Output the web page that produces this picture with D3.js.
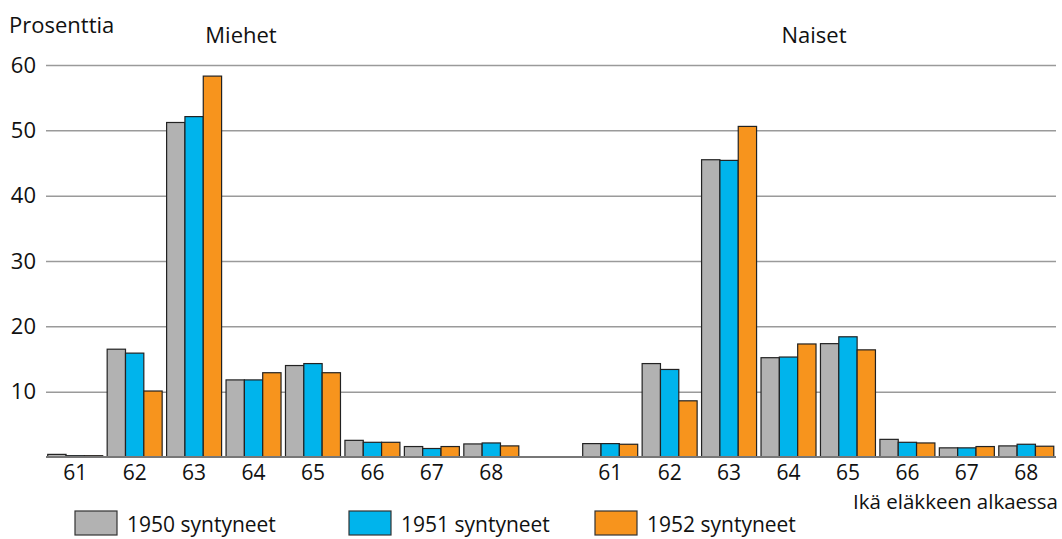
<!DOCTYPE html>
<html>
<head>
<meta charset="utf-8">
<script src="https://cdn.jsdelivr.net/npm/d3@7"></script>
<style>
  body { margin: 0; background: #fff; }
  svg { display: block; font-family: "Open Sans", sans-serif; }
</style>
</head>
<body>
<div id="chart"></div>
<script>
// Ages in each panel; "gap" is the empty slot between the panels
const ages = ['61', '62', '63', '64', '65', '66', '67', '68'];
const panels = ['Miehet', 'Naiset'];
const seriesNames = ['1950 syntyneet', '1951 syntyneet', '1952 syntyneet'];
const yTicks = [10, 20, 30, 40, 50, 60];

// Share (%) starting pension at each age
const miehet1950 = [0.4, 16.5, 51.2, 11.8, 14.0, 2.55, 1.6, 2.0];
const miehet1951 = [0.2, 15.9, 52.1, 11.8, 14.3, 2.25, 1.3, 2.15];
const miehet1952 = [0.2, 10.1, 58.3, 12.9, 12.9, 2.25, 1.6, 1.7];
const naiset1950 = [2.05, 14.3, 45.5, 15.2, 17.35, 2.7, 1.4, 1.7];
const naiset1951 = [2.05, 13.4, 45.4, 15.3, 18.4, 2.25, 1.4, 1.95];
const naiset1952 = [1.95, 8.6, 50.6, 17.3, 16.4, 2.15, 1.6, 1.65];

const colors = ['#b2b2b2', '#00b4ec', '#f7941d'];

const width = 1062, height = 539;
const svg = d3.select('#chart').append('svg')
  .attr('width', width).attr('height', height);

const slots = [...ages.map(a => 'M' + a), 'gap', ...ages.map(a => 'N' + a)];
const x = d3.scaleBand().domain(slots).range([45.5, 1056]).paddingInner(0.075).paddingOuter(0.0375);
const y = d3.scaleLinear().domain([0, 60]).range([457, 65]);
const xs = d3.scaleBand().domain(seriesNames).range([0, x.bandwidth()]);

// gridlines
const grid = svg.append('g')
  .attr('transform', 'translate(46,0)')
  .call(d3.axisLeft(y).tickValues(yTicks).tickSize(-(1056 - 46)).tickFormat(d3.format('d')));
grid.select('.domain').remove();
grid.selectAll('.tick line').attr('stroke', '#9a9a9a').attr('stroke-width', 1.5);
grid.selectAll('.tick text').attr('x', -10).attr('fill', '#111')
  .style('font-size', '22px').style('font-family', '"Open Sans", sans-serif');

const rows = [];
[[miehet1950, miehet1951, miehet1952], [naiset1950, naiset1951, naiset1952]].forEach((grp, p) => {
  grp.forEach((vals, s) => {
    vals.forEach((v, i) => rows.push({ slot: (p ? 'N' : 'M') + ages[i], s, v }));
  });
});

svg.append('g').selectAll('rect').data(rows).join('rect')
  .attr('x', d => x(d.slot) + xs(seriesNames[d.s]))
  .attr('width', xs.bandwidth())
  .attr('y', d => y(d.v))
  .attr('height', d => y(0) - y(d.v))
  .attr('fill', d => colors[d.s])
  .attr('stroke', '#222').attr('stroke-width', 1.2);

// baseline
svg.append('line').attr('x1', 46).attr('x2', 1056).attr('y1', y(0)).attr('y2', y(0))
  .attr('stroke', '#777').attr('stroke-width', 2);

// age labels
const xa = d3.axisBottom(x).tickSize(0).tickFormat(d => d === 'gap' ? '' : d.slice(1));
const xg = svg.append('g').attr('transform', `translate(0,${y(0)})`).call(xa);
xg.select('.domain').remove();
xg.selectAll('text').attr('dy', 0).attr('y', 23).attr('fill', '#111')
  .style('font-size', '21px').style('font-family', '"Open Sans", sans-serif');

const txt = (t, px, py, anchor = 'start', size = 22) => svg.append('text')
  .attr('x', px).attr('y', py).attr('text-anchor', anchor)
  .attr('fill', '#111').style('font-size', size + 'px').text(t);

txt('Prosenttia', 9, 33);
txt(panels[0], 241, 43, 'middle');
txt(panels[1], 814, 43, 'middle');
txt('Ikä eläkkeen alkaessa', 1058, 509, 'end', 20.5);

// legend
const legendX = [75, 349, 595];
const lg = svg.append('g').selectAll('g').data(seriesNames).join('g')
  .attr('transform', (d, i) => `translate(${legendX[i]},511)`);
lg.append('rect').attr('width', 42).attr('height', 24)
  .attr('fill', (d, i) => colors[i]).attr('stroke', '#333').attr('stroke-width', 1.2);
lg.append('text').attr('x', 52).attr('y', 21).attr('fill', '#111')
  .style('font-size', '21px').text(d => d);
</script>
</body>
</html>
